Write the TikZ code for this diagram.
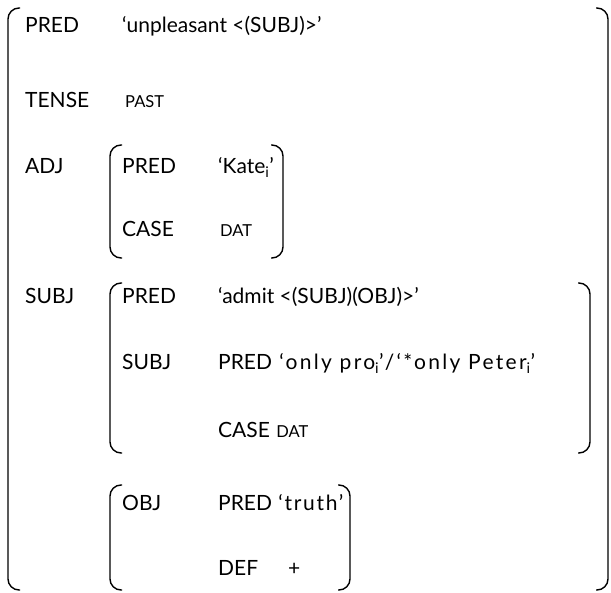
\documentclass[tikz,border=0pt]{standalone}
\usepackage{fontspec}
\setmainfont{Lato}
% left bracket at x=#1 and right bracket at the x of coordinate #2, from y=#3 to y=#4
\newcommand\fsbrack[4]{%
  \draw[brk] ({#1+12},#3) -- (#1,#3) -- (#1,#4) -- ({#1+12},#4);
  \draw[brk] (#2 |- 0,#3) ++(-12,0) -- (#2 |- 0,#3) -- (#2 |- 0,#4) -- ++(-12,0);}
\begin{document}
\begin{tikzpicture}[x=1pt,y=-1pt,
  lbl/.style={anchor=base west,inner sep=0pt,font=\fontsize{21}{24}\selectfont},
  sc/.style={anchor=base west,inner sep=0pt,font=\fontsize{16.5}{20}\selectfont},
  wide/.style={font=\fontsize{21}{24}\selectfont\addfontfeature{LetterSpace=#1}},
  brk/.style={line width=1.4pt,rounded corners=11pt}]
\useasboundingbox (0,0) rectangle (611,593);
% rows
\node[lbl] (p1) at (25,33) {PRED};
\node[lbl] (p1v) at (122,33) {‘unpleasant <(SUBJ)>’};
\node[lbl] (t) at (25,108) {TENSE};
\node[sc] (tv) at (125,108) {PAST};
\node[lbl] (adj) at (25,174) {ADJ};
\node[lbl] (adjp) at (122,174) {PRED};
\node[lbl] (adjpv) at (218,174) {‘Kate\textsubscript{i}’};
\node[lbl] (adjc) at (122,237) {CASE};
\node[sc] (adjcv) at (220,237) {DAT};
\node[lbl] (subj) at (25,304) {SUBJ};
\node[lbl] (sp) at (122,304) {PRED};
\node[lbl] (spv) at (218,304) {‘admit <(SUBJ)(OBJ)>’};
\node[lbl] (ss) at (122,370) {SUBJ};
\node[lbl] (ssp) at (218,370) {PRED};
\node[lbl,wide=11] (sspv) at ([xshift=7pt]ssp.base east) {‘only pro\textsubscript{i}’/‘*only Peter\textsubscript{i}’};
\node[lbl] (ssc) at (218,438) {CASE};
\node[sc] (sscv) at ([xshift=6pt]ssc.base east) {DAT};
\node[lbl] (obj) at (122,511) {OBJ};
\node[lbl] (op) at (218,511) {PRED};
\node[lbl,wide=8] (opv) at ([xshift=6pt]op.base east) {‘truth’};
\node[lbl] (od) at (218,576) {DEF};
\node[lbl] (odv) at (288,576) {+};
% bracket right edges
\coordinate (rOut) at (608,0);
\coordinate (rAdj) at (283,0);
\coordinate (rSubj) at (590,0);
\coordinate (rObj) at (350,0);
% outer and inner brackets
\fsbrack{8}{rOut}{8}{590}
\fsbrack{110}{rAdj}{145}{258}
\fsbrack{110}{rSubj}{283}{453}
\fsbrack{110}{rObj}{485}{590}
\end{tikzpicture}
\end{document}
